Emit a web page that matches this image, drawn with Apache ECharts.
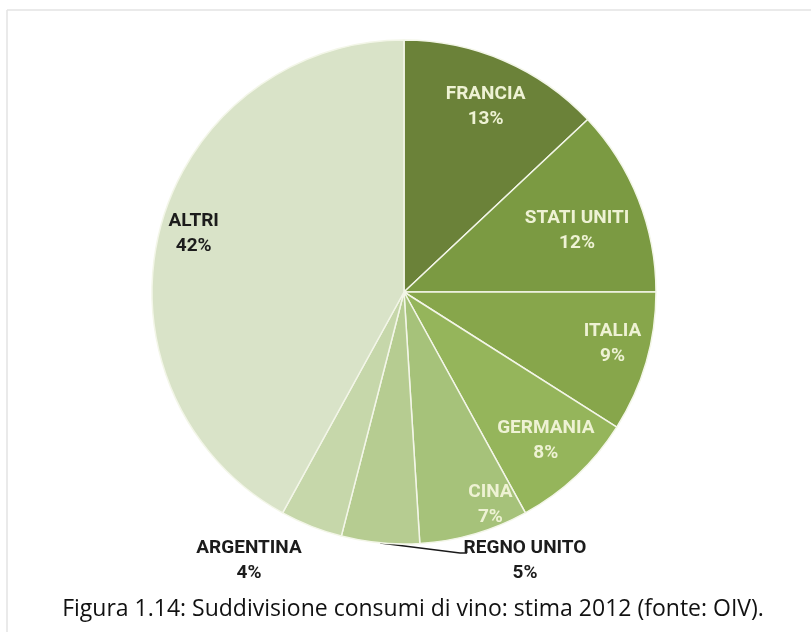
<!DOCTYPE html>
<html>
<head>
<meta charset="utf-8">
<script src="https://cdn.jsdelivr.net/npm/echarts@6/dist/echarts.min.js"></script>
<style>
  html, body { margin: 0; padding: 0; background: #ffffff; }
  #chart { width: 811px; height: 632px; }
</style>
</head>
<body>
<div id="chart"></div>
<script>
// Wine consumption share by country, 2012 estimate (OIV)
const countries = ['FRANCIA', 'STATI UNITI', 'ITALIA', 'GERMANIA', 'CINA', 'REGNO UNITO', 'ARGENTINA', 'ALTRI'];
const shares = [13, 12, 9, 8, 7, 5, 4, 42];
const caption = 'Figura 1.14: Suddivisione consumi di vino: stima 2012 (fonte: OIV).';

const sliceColors = ['#6b8239', '#7b9a42', '#87a64b', '#95b55b', '#a6c27a', '#b6cc91', '#c6d7aa', '#d9e3c8'];
const innerLabelColor = '#eef2d4';
const darkLabelColor = '#1c1c1c';

// small per-slice nudges for the labels placed inside the sectors
const labelNudge = [[-3, 10], [-25, 17], [4, -8], [-4, -7], [27, 8], [0, 0], [0, 0], [-4, -5]];
const outsideIdx = [5, 6];

const cx = 404, cy = 292, R = 252;
const labelFont = { fontFamily: 'Roboto', fontWeight: 'bold', fontSize: 19, lineHeight: 25 };

const chart = echarts.init(document.getElementById('chart'), null, { renderer: 'canvas' });

const sliceData = countries.map((name, i) => ({
  name, value: shares[i],
  itemStyle: { color: sliceColors[i] },
  label: outsideIdx.includes(i)
    ? Object.assign({ show: true, position: 'outside', color: darkLabelColor }, labelFont)
    : { show: false },
  labelLine: { show: i === 5, lineStyle: { color: '#1a1a1a', width: 1.5 }, length: 10, length2: 10, smooth: false }
}));

const labelData = countries.map((name, i) => ({
  name, value: shares[i],
  label: outsideIdx.includes(i)
    ? { show: false }
    : Object.assign({ show: true, color: i === 7 ? darkLabelColor : innerLabelColor }, labelFont)
}));

chart.setOption({
  backgroundColor: '#ffffff',
  animation: false,
  graphic: [
    { type: 'line', shape: { x1: 7, y1: 10, x2: 811, y2: 10 }, style: { stroke: '#e3e3e3', lineWidth: 1.5 } },
    { type: 'line', shape: { x1: 7, y1: 10, x2: 7, y2: 632 }, style: { stroke: '#e3e3e3', lineWidth: 1.5 } },
    {
      type: 'text', x: 413, y: 609,
      style: {
        text: caption, fill: '#111111', fontFamily: 'Open Sans', fontSize: 23,
        align: 'center', verticalAlign: 'middle'
      }
    }
  ],
  series: [
    {
      type: 'pie',
      center: [cx, cy],
      radius: R,
      startAngle: 90,
      clockwise: true,
      silent: true,
      itemStyle: { borderColor: '#f3f6e8', borderWidth: 1.5 },
      label: { formatter: '{b}\n{c}%' },
      labelLayout: function (p) {
        if (p.dataIndex === 5) {
          const start = p.labelLinePoints ? p.labelLinePoints[0] : [378, 541];
          return {
            x: 525, y: 561, align: 'center', verticalAlign: 'middle',
            labelLinePoints: [start, [460, 553], [467, 553]]
          };
        }
        if (p.dataIndex === 6) {
          return { x: 249, y: 561, align: 'center', verticalAlign: 'middle' };
        }
        return {};
      },
      data: sliceData
    },
    {
      // transparent twin whose sector middles carry the inner labels
      type: 'pie',
      center: [cx, cy],
      radius: [0, 420],
      startAngle: 90,
      clockwise: true,
      silent: true,
      itemStyle: { color: 'transparent', borderWidth: 0 },
      label: { position: 'inside', formatter: '{b}\n{c}%' },
      labelLine: { show: false },
      labelLayout: function (p) {
        const n = labelNudge[p.dataIndex];
        return { dx: n[0], dy: n[1] };
      },
      data: labelData
    }
  ]
});
</script>
</body>
</html>
